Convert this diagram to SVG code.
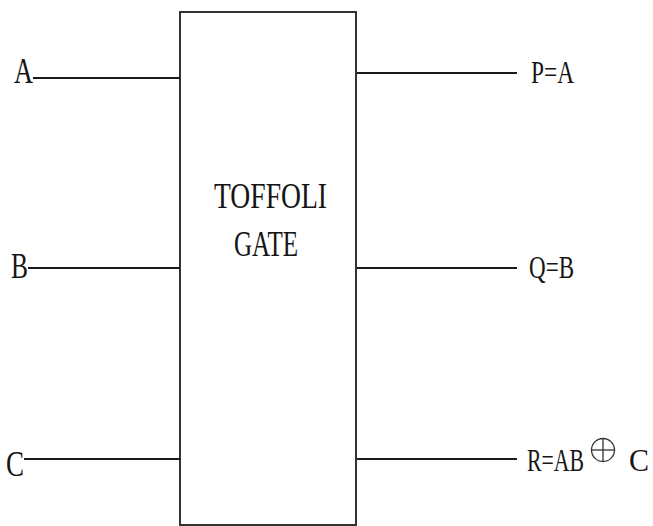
<svg xmlns="http://www.w3.org/2000/svg" width="653" height="526" viewBox="0 0 653 526">
<style>
.t{font-family:"Liberation Serif","Times New Roman",serif;fill:#151515}
.w{stroke:#1a1a1a;stroke-width:2.2;fill:none}
.x{stroke:#333;stroke-width:1.3;fill:none}
</style>
<rect width="653" height="526" fill="#fff"/>
<g id="gate">
<rect x="180" y="12" width="176" height="513" fill="#fff" stroke="#333" stroke-width="2"/>
<text class="t" x="214" y="208" font-size="35" textLength="113" lengthAdjust="spacingAndGlyphs">TOFFOLI</text>
<text class="t" x="234" y="256" font-size="35" textLength="64" lengthAdjust="spacingAndGlyphs">GATE</text>
</g>
<g id="inA"><text class="t" x="14" y="83" font-size="36" textLength="19" lengthAdjust="spacingAndGlyphs">A</text></g>
<g id="inB"><text class="t" x="11" y="278" font-size="36" textLength="17" lengthAdjust="spacingAndGlyphs">B</text></g>
<g id="inC"><text class="t" x="6" y="476" font-size="36" textLength="18" lengthAdjust="spacingAndGlyphs">C</text></g>
<g id="outP"><text class="t" x="531" y="83" font-size="32" textLength="43" lengthAdjust="spacingAndGlyphs">P=A</text></g>
<g id="outQ"><text class="t" x="529" y="278" font-size="32" textLength="45" lengthAdjust="spacingAndGlyphs">Q=B</text></g>
<g id="outR"><text class="t" x="527" y="471" font-size="32" textLength="57" lengthAdjust="spacingAndGlyphs">R=AB</text>
<circle class="x" cx="603" cy="450" r="11.5"/>
<line class="x" x1="591.5" y1="450" x2="614.5" y2="450"/>
<line class="x" x1="603" y1="438.5" x2="603" y2="461.5"/>
<text class="t" x="629" y="471" font-size="32" textLength="20" lengthAdjust="spacingAndGlyphs">C</text></g>
<g id="connectors">
<line class="w" x1="33" y1="78" x2="180" y2="78"/>
<line class="w" x1="28" y1="268" x2="180" y2="268"/>
<line class="w" x1="24" y1="459" x2="180" y2="459"/>
<line class="w" x1="357" y1="73" x2="517" y2="73"/>
<line class="w" x1="357" y1="268" x2="517" y2="268"/>
<line class="w" x1="357" y1="459" x2="517" y2="459"/>
</g>
</svg>
